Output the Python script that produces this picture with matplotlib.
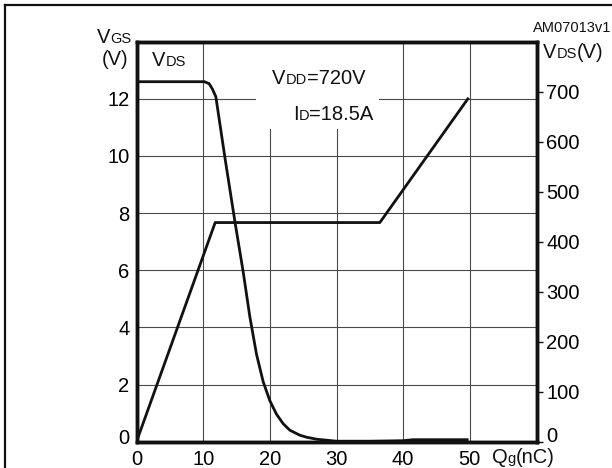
import matplotlib
matplotlib.use("Agg")
import matplotlib.pyplot as plt
import matplotlib.transforms as mtransforms
from matplotlib.patches import Rectangle

plt.rcParams["font.family"] = ["Liberation Sans", "DejaVu Sans"]

W, H = 612, 468
INK = "#111111"; GRID = "#4a4a4a"
BIG = 14.5; SMALL = 10.5

# gate charge curves
qg_vgs = [0, 11.8, 36.5, 49.7]
vgs = [0, 7.67, 7.67, 12.0]

qg_vds = [0, 10.2, 10.9, 11.4, 11.9, 13.3, 14.8, 16.0, 17.0, 18.0, 19.0, 20.0,
          21.0, 22.0, 23.0, 24.5, 25.5, 27.0, 30.0, 35.0, 40.0, 41.5, 49.6]
vds = [720, 720, 716, 705, 690, 565, 437, 340, 250, 175, 120, 82,
       55, 36, 23, 13, 9, 5, 1, 1, 2, 4, 4]

x_ticks = [0, 10, 20, 30, 40, 50]
vgs_ticks = [0, 2, 4, 6, 8, 10, 12]
vds_ticks = [0, 100, 200, 300, 400, 500, 600, 700]

fig = plt.figure(figsize=(W / 100, H / 100), dpi=100)
ax = fig.add_axes([136.5 / W, (H - 441.7) / H, 400 / W, 400 / H])
ax2 = ax.twinx()

ax.set_xlim(0, 60); ax.set_ylim(0, 14)
ax2.set_ylim(0, 800)

for a in (ax, ax2):
    for s in a.spines.values():
        s.set_linewidth(2.5); s.set_color(INK)

ax.set_axisbelow(True)
ax.grid(True, color=GRID, lw=0.8)
ax.set_xticks(x_ticks); ax.set_xticklabels([str(v) for v in x_ticks], fontsize=BIG)
ax.set_yticks(vgs_ticks); ax.set_yticklabels([str(v) for v in vgs_ticks], fontsize=BIG)
ax.tick_params(axis="both", length=0)
ax.tick_params(axis="x", pad=6)
ax.tick_params(axis="y", pad=5)

ax2.set_yticks(vds_ticks); ax2.set_yticklabels([str(v) for v in vds_ticks], fontsize=BIG)
ax2.tick_params(axis="y", length=4, width=1, pad=3, color=INK)

# white patch behind the test-condition text (grid lines stop there)
ax.add_patch(Rectangle((17.9, 10.96), 18.5, 3.04, facecolor="white",
                       edgecolor="none", zorder=1))

ax.plot(qg_vgs, vgs, color=INK, lw=2.0, zorder=3)
ax2.plot(qg_vds, vds, color=INK, lw=2.0, zorder=3)

# lift the two "0" labels a bit like the original
for lbl, dy in ((ax.get_yticklabels()[0], 5), (ax2.get_yticklabels()[0], 7)):
    off = mtransforms.ScaledTranslation(0, dy / 100, fig.dpi_scale_trans)
    lbl.set_transform(lbl.get_transform() + off)

renderer = fig.canvas.get_renderer()


def label(x, y, parts, ha="left"):
    """Draw pieces (text, size) on one baseline starting at pixel x, y (from top)."""
    widths = []
    tmp = []
    for txt, size in parts:
        t = fig.text(0, 0, txt, fontsize=size)
        widths.append(t.get_window_extent(renderer).width)
        tmp.append(t)
    for t in tmp:
        t.remove()
    if ha == "right":
        x = x - sum(widths)
    for (txt, size), w in zip(parts, widths):
        fig.text(x / W, 1 - y / H, txt, fontsize=size, va="baseline", ha="left", color=INK)
        x += w


label(97, 43, [("V", BIG), ("GS", SMALL)])
label(128, 65, [("(V)", BIG)], ha="right")
label(152, 66, [("V", BIG), ("DS", SMALL)])
label(272, 84, [("V", BIG), ("DD", SMALL), ("=720V", BIG)])
label(293, 120, [("I", BIG), ("D", SMALL), ("=18.5A", BIG)])
label(543, 58, [("V", BIG), ("DS", SMALL), ("(V)", BIG)])
label(492, 463, [("Q", BIG), ("g", SMALL), ("(nC)", BIG)])
label(611, 32, [("AM07013v1", 10.5)], ha="right")

# outer frame of the datasheet figure (cut off at right and bottom)
fig.add_artist(plt.Line2D([5 / W, 1], [1 - 5 / H, 1 - 5 / H], color=INK, lw=1.6,
                          transform=fig.transFigure))
fig.add_artist(plt.Line2D([5 / W, 5 / W], [0, 1 - 5 / H], color=INK, lw=1.6,
                          transform=fig.transFigure))

fig.savefig("out.png", dpi=100)
